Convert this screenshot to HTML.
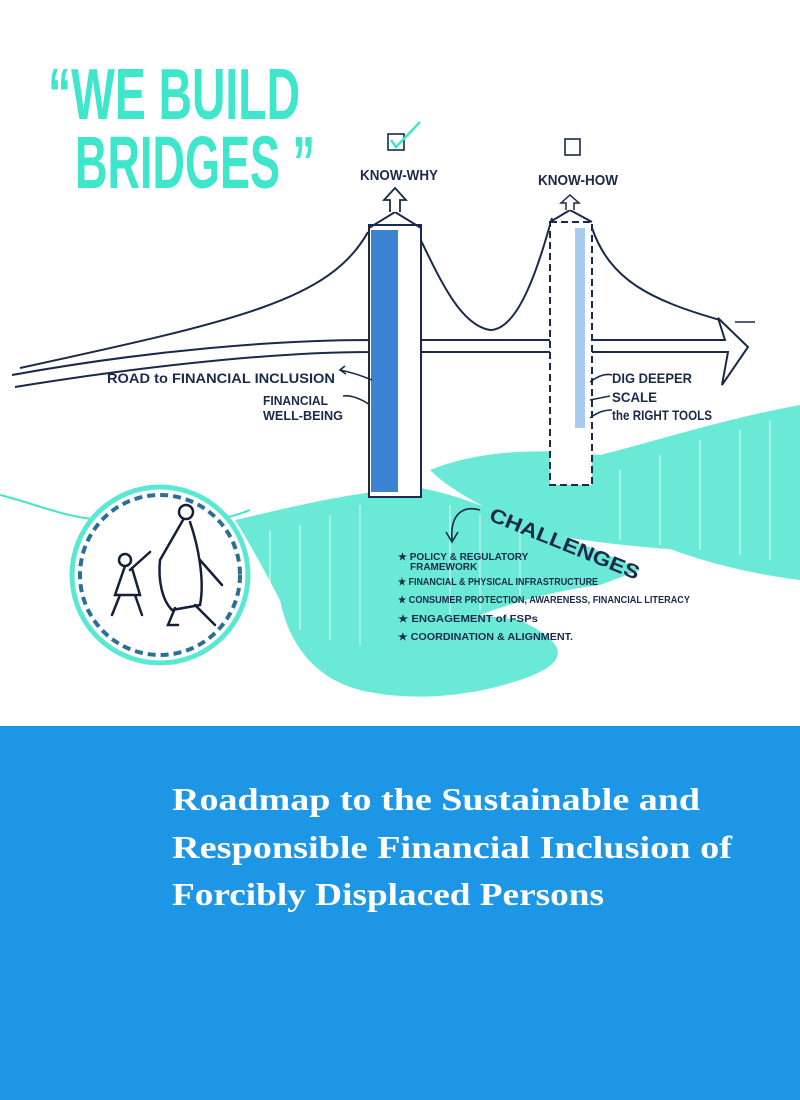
<!DOCTYPE html>
<html><head><meta charset="utf-8"><style>
html,body{margin:0;padding:0;width:800px;height:1100px;overflow:hidden;background:#fff}
svg{display:block}
</style></head><body>
<svg width="800" height="1100" viewBox="0 0 800 1100" xmlns="http://www.w3.org/2000/svg">
<rect width="800" height="726" fill="#fff"/>
<rect y="726" width="800" height="374" fill="#1e96e6"/>
<g fill="#3ee6cc" font-family="Liberation Sans Narrow, Liberation Sans, sans-serif" font-weight="bold">
<text x="48" y="119" font-size="72" textLength="252" lengthAdjust="spacingAndGlyphs">“WE BUILD</text>
<text x="75" y="188" font-size="74" textLength="240" lengthAdjust="spacingAndGlyphs">BRIDGES ”</text>
</g>
<g fill="#5ae8d2" opacity="0.9">
<path d="M235 520 C300 505 360 490 420 488 C460 495 490 510 520 520 C560 535 600 550 640 570 L600 585 C560 590 520 600 480 615 C420 640 360 650 300 640 C280 600 260 560 235 520Z"/>
<path d="M280 600 C360 600 440 610 520 620 C560 640 580 660 520 680 C460 700 400 700 360 690 C320 680 290 650 280 600Z"/>
<path d="M430 470 C480 450 540 448 600 455 C660 440 720 420 800 405 L800 560 C760 560 720 555 680 550 C620 545 560 540 520 525 C480 505 450 490 430 470Z"/>
<path d="M660 545 C710 525 760 515 800 510 L800 580 C760 575 710 565 660 545Z"/>
</g>
<g stroke="#fff" stroke-width="1.5" opacity="0.5">
<path d="M270 530 L270 600 M300 525 L300 630 M330 515 L330 640 M360 505 L360 645 M450 505 L450 620 M480 515 L480 610 M520 530 L520 600 M620 470 L620 540 M660 455 L660 545 M700 440 L700 550 M740 430 L740 555 M770 420 L770 560"/>
</g>
<path d="M0 495 C40 505 70 520 110 520 C160 520 200 530 250 510" fill="none" stroke="#3ee6cc" stroke-width="2"/>
<circle cx="160" cy="575" r="88" fill="#fff" stroke="#5ae8d2" stroke-width="5"/>
<circle cx="160" cy="575" r="80" fill="none" stroke="#2b6f95" stroke-width="4" stroke-dasharray="8 5"/>
<g fill="none" stroke="#14203a" stroke-width="2.5" stroke-linecap="round">
<circle cx="186" cy="512" r="7"/>
<path d="M183 520 L160 560 C158 580 162 600 172 610 L200 605 C205 580 198 545 190 522"/>
<path d="M175 608 L168 625 L178 625 M195 605 L215 625 M200 560 L222 585"/>
<circle cx="125" cy="560" r="6"/>
<path d="M125 566 L115 595 L140 595 L132 568 M120 595 L112 615 M135 595 L142 615 M130 570 L150 552"/>
</g>
<g fill="none" stroke="#1b2a4a" stroke-width="2">
<path d="M368 232 C330 300 240 320 20 368"/>
<path d="M415 228 C440 280 460 325 490 330 C520 330 540 260 552 218"/>
<path d="M592 228 C610 280 650 300 720 320"/>
</g>
<g fill="#fff" stroke="#1b2a4a" stroke-width="2">
<path d="M12 375 C150 350 280 340 370 340 L370 352 C280 352 150 365 15 387"/>
<rect x="412" y="340" width="145" height="12"/>
<path d="M590 340 L725 340 L718 318 L748 347 L722 385 L728 352 L590 352Z"/>
</g>
<line x1="735" y1="322" x2="755" y2="322" stroke="#1b2a4a" stroke-width="1.5"/>
<rect x="369" y="225" width="52" height="272" fill="#fff" stroke="#1b2a4a" stroke-width="2"/>
<rect x="371" y="230" width="27" height="262" fill="#3b84d4"/>
<path d="M369 228 L395 212 L421 228" fill="none" stroke="#1b2a4a" stroke-width="2"/>
<path d="M390 212 L390 200 L384 200 L395 188 L406 200 L400 200 L400 212" fill="#fff" stroke="#1b2a4a" stroke-width="1.8"/>
<rect x="550" y="222" width="42" height="263" fill="#fff" stroke="#1b2a4a" stroke-width="2" stroke-dasharray="7 4"/>
<rect x="575" y="228" width="10" height="200" fill="#a8ccee"/>
<path d="M550 222 L570 210 L592 222" fill="none" stroke="#1b2a4a" stroke-width="2"/>
<path d="M566 210 L566 203 L561 203 L570 195 L579 203 L574 203 L574 210" fill="#fff" stroke="#1b2a4a" stroke-width="1.5"/>
<g fill="#1b2a4a" font-family="Liberation Sans Narrow, Liberation Sans, sans-serif" font-weight="bold">
<text x="360" y="180" font-size="15" textLength="78" lengthAdjust="spacingAndGlyphs">KNOW-WHY</text>
<text x="538" y="185" font-size="15" textLength="80" lengthAdjust="spacingAndGlyphs">KNOW-HOW</text>
<text x="107" y="383" font-size="14" textLength="228" lengthAdjust="spacingAndGlyphs">ROAD to FINANCIAL INCLUSION</text>
<text x="263" y="405" font-size="13" textLength="65" lengthAdjust="spacingAndGlyphs">FINANCIAL</text>
<text x="263" y="420" font-size="13" textLength="80" lengthAdjust="spacingAndGlyphs">WELL-BEING</text>
<text x="612" y="383" font-size="14" textLength="80" lengthAdjust="spacingAndGlyphs">DIG DEEPER</text>
<text x="612" y="402" font-size="14" textLength="45" lengthAdjust="spacingAndGlyphs">SCALE</text>
<text x="612" y="420" font-size="14" textLength="100" lengthAdjust="spacingAndGlyphs">the RIGHT TOOLS</text>
<text x="488" y="520" font-size="20" transform="rotate(22 488 520)" textLength="160" lengthAdjust="spacingAndGlyphs">CHALLENGES</text>
<g font-size="10">
<text x="398" y="560">★ POLICY &amp; REGULATORY</text>
<text x="410" y="570">FRAMEWORK</text>
<text x="398" y="585" textLength="200" lengthAdjust="spacingAndGlyphs">★ FINANCIAL &amp; PHYSICAL INFRASTRUCTURE</text>
<text x="398" y="603" textLength="292" lengthAdjust="spacingAndGlyphs">★ CONSUMER PROTECTION, AWARENESS, FINANCIAL LITERACY</text>
<text x="398" y="622" textLength="140" lengthAdjust="spacingAndGlyphs">★ ENGAGEMENT of FSPs</text>
<text x="398" y="640" textLength="175" lengthAdjust="spacingAndGlyphs">★ COORDINATION &amp; ALIGNMENT.</text>
</g>
</g>
<g fill="none" stroke="#1b2a4a" stroke-width="1.6">
<rect x="388" y="134" width="16" height="16"/>
<rect x="565" y="139" width="15" height="16"/>
<path d="M372 380 C360 375 350 372 340 370 M345 366 L340 370 L346 374"/>
<path d="M370 405 C360 398 350 395 343 396"/>
<path d="M590 382 C598 376 605 373 612 375 M590 400 L610 396 M590 418 C598 412 604 410 612 410"/>
<path d="M480 510 C462 505 450 515 452 540 M446 532 L452 542 L458 532"/>
</g>
<path d="M391 140 L396 147 L420 122" fill="none" stroke="#3ee6cc" stroke-width="2.5"/>
<g fill="#fff" font-family="Liberation Serif, serif" font-weight="bold" font-size="32">
<text x="172" y="810" textLength="528" lengthAdjust="spacingAndGlyphs">Roadmap to the Sustainable and</text>
<text x="172" y="858" textLength="560" lengthAdjust="spacingAndGlyphs">Responsible Financial Inclusion of</text>
<text x="172" y="905" textLength="432" lengthAdjust="spacingAndGlyphs">Forcibly Displaced Persons</text>
</g>
</svg>
</body></html>
